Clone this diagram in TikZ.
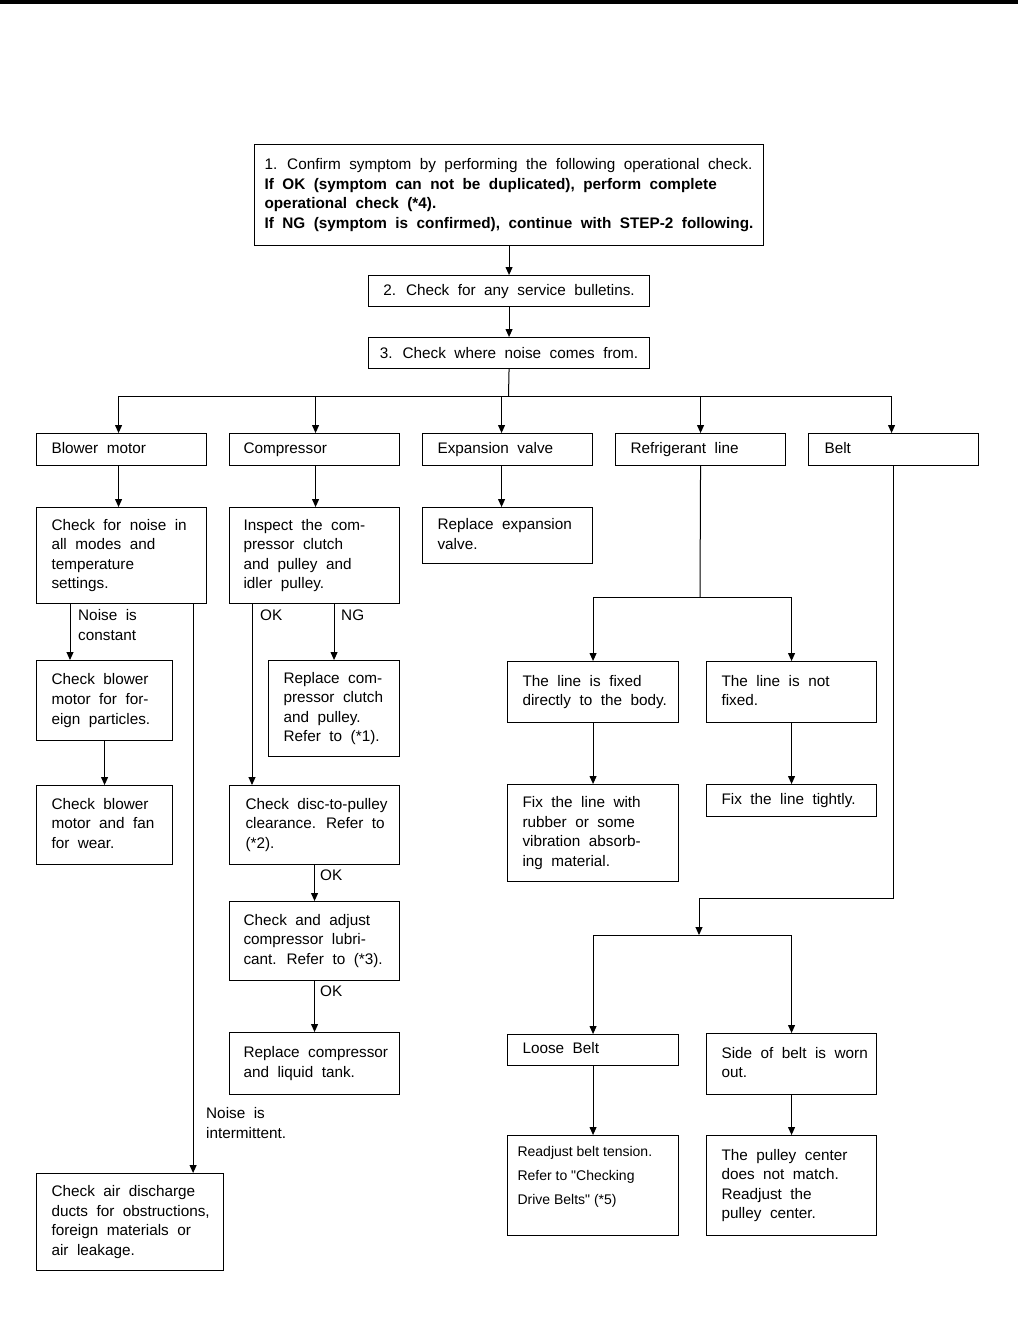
\documentclass[tikz,border=0pt]{standalone}
\usepackage{fontspec}
\setmainfont{Liberation Sans}[WordSpace=2.0]
\newfontfamily\plainfont{Liberation Sans}
\usetikzlibrary{arrows.meta}
\newcommand\bfnt{\fontsize{15.3}{19.6}\selectfont}
\tikzset{
  boxnode/.style={draw, line width=1.1pt, anchor=north west, inner xsep=0pt, inner ysep=0pt, font=\bfnt},
  conn/.style={line width=1pt},
  arr/.style={conn, -{Triangle[length=8pt,width=7pt]}},
  lbl/.style={font=\bfnt, inner sep=0pt, anchor=west, align=left},
}
\newcommand\bx[7][15]{%
  \pgfmathsetmacro\bxw{#5-#3}\pgfmathsetmacro\bxh{#6-#4}%
  \node[boxnode, minimum width=\bxw pt, minimum height=\bxh pt] (#2) at (#3,#4)
    {\makebox[\bxw pt][l]{\hspace*{#1pt}\begin{tabular}{@{}l@{}}#7\end{tabular}}};}
\begin{document}
\begin{tikzpicture}[x=1pt,y=-1pt]
\useasboundingbox (0,0) rectangle (1018,1320);
\fill[white] (0,0) rectangle (1018,1320);
\fill[black] (0,0) rectangle (1018,3.5);

% boxes
\bx[10]{box1}{254}{144}{763}{245}{1. Confirm symptom by performing the following operational check.\\
\textbf{If OK (symptom can not be duplicated), perform complete}\\
\textbf{operational check (*4).}\\
\textbf{If NG (symptom is confirmed), continue with STEP-2 following.}}
\node[boxnode, minimum width=281pt, minimum height=31pt] (box2) at (368,275) {2. Check for any service bulletins.};
\node[boxnode, minimum width=281pt, minimum height=31pt] (box3) at (368,337) {3. Check where noise comes from.};

\bx{blower}{36}{433}{206}{465}{Blower motor}
\bx[14]{comp}{229}{433}{399}{465}{Compressor}
\bx{exp}{422}{433}{592}{465}{Expansion valve}
\bx{refl}{615}{433}{785}{465}{Refrigerant line}
\bx[16]{belt}{808}{433}{978}{465}{Belt}

\bx{bchk}{36}{507}{206}{603}{Check for noise in\\all modes and\\temperature\\settings.}
\bx[14]{insp}{229}{507}{399}{603}{Inspect the com-\\pressor clutch\\and pulley and\\idler pulley.}
\bx{rexp}{422}{507}{592}{563}{Replace expansion\\valve.}

\bx{bpart}{36}{660}{172}{740}{Check blower\\motor for for-\\eign particles.}
\bx{repl}{268}{660}{399}{756}{Replace com-\\pressor clutch\\and pulley.\\Refer to (*1).}
\bx{fixed}{507}{661}{678}{722}{The line is fixed\\directly to the body.}
\bx{notfx}{706}{661}{876}{722}{The line is not\\fixed.}

\bx{bwear}{36}{785}{172}{864}{Check blower\\motor and fan\\for wear.}
\bx[16]{disc}{229}{785}{399}{864}{Check disc-to-pulley\\clearance. Refer to\\(*2).}
\bx{fixrub}{507}{784}{678}{881}{Fix the line with\\rubber or some\\vibration absorb-\\ing material.}
\bx{tight}{706}{784}{876}{816}{Fix the line tightly.}

\bx[14]{adj}{229}{901}{399}{980}{Check and adjust\\compressor lubri-\\cant. Refer to (*3).}
\bx[14]{rcomp}{229}{1032}{399}{1094}{Replace compressor\\and liquid tank.}
\bx{loose}{507}{1034}{678}{1065}{Loose Belt}
\bx{worn}{706}{1033}{876}{1094}{Side of belt is worn\\out.}

\node[boxnode, minimum width=171pt, minimum height=100pt] (readj) at (507,1135)
  {\makebox[171pt][l]{\hspace*{10pt}\plainfont\fontsize{14}{24}\selectfont\raisebox{6pt}[0pt][0pt]{\begin{tabular}{@{}l@{}}Readjust belt tension.\\Refer to "Checking\\Drive Belts" (*5)\end{tabular}}}};
\bx{pulley}{706}{1135}{876}{1235}{The pulley center\\does not match.\\Readjust the\\pulley center.}
\bx{air}{36}{1173}{223}{1270}{Check air discharge\\ducts for obstructions,\\foreign materials or\\air leakage.}

% labels
\node[lbl] (lconst) at (78,625) {Noise is\\constant};
\node[lbl] (lok1) at (260,615) {OK};
\node[lbl] (lng) at (341,615) {NG};
\node[lbl] (lok2) at (320,875) {OK};
\node[lbl] (lok3) at (320,991) {OK};
\node[lbl] (lint) at (206,1123) {Noise is\\intermittent.};

% connectors top
\draw[arr] (box1.south) -- (box2.north);
\draw[arr] (box2.south) -- (box3.north);
\coordinate (hub) at (508.5,396);
\draw[conn] (box3.south) -- (hub);
\coordinate (tb) at ([xshift=-3pt]blower.north);
\coordinate (tc) at ([xshift=1pt]comp.north);
\coordinate (te) at ([xshift=-6pt]exp.north);
\coordinate (tr) at (refl.north);
\coordinate (tbe) at ([xshift=-2pt]belt.north);
\draw[conn] (tb |- hub) -- (tbe |- hub);
\foreach \t in {tb,tc,te,tr,tbe} \draw[arr] (\t |- hub) -- (\t);

% blower column
\coordinate (bb) at ([xshift=-3pt]blower.south);
\draw[arr] (bb) -- (bb |- bchk.north);
\draw[arr] ([xshift=34pt]bchk.south west) -- ([xshift=34pt]bpart.north west);
\draw[arr] (bpart.south) -- (bwear.north);
\draw[arr] ([xshift=-14pt]bchk.south east) -- ([xshift=-31pt]air.north east);

% compressor column
\draw[arr] ([xshift=1pt]comp.south) -- ([xshift=1pt]insp.north);
\draw[arr] ([xshift=23pt]insp.south west) -- ([xshift=23pt]disc.north west);
\draw[arr] (repl.north |- insp.south) -- (repl.north);
\draw[arr] (disc.south) -- (adj.north);
\draw[arr] (adj.south) -- (rcomp.north);

% expansion
\draw[arr] ([xshift=-6pt]exp.south) -- ([xshift=-6pt]rexp.north);

% refrigerant line
\coordinate (rhub) at (700,597);
\draw[conn] (refl.south) -- (rhub);
\draw[conn] (fixed.north |- rhub) -- (notfx.north |- rhub);
\draw[arr] (fixed.north |- rhub) -- (fixed.north);
\draw[arr] (notfx.north |- rhub) -- (notfx.north);
\draw[arr] (fixed.south) -- (fixrub.north);
\draw[arr] (notfx.south) -- (tight.north);

% belt
\coordinate (bjog) at (699,898);
\coordinate (bhub) at (699,935);
\draw[arr] (belt.south) |- (bjog) -- (bhub);
\draw[conn] (loose.north |- bhub) -- (worn.north |- bhub);
\draw[arr] (loose.north |- bhub) -- (loose.north);
\draw[arr] (worn.north |- bhub) -- (worn.north);
\draw[arr] (loose.south) -- (readj.north);
\draw[arr] (worn.south) -- (pulley.north);
\end{tikzpicture}
\end{document}
